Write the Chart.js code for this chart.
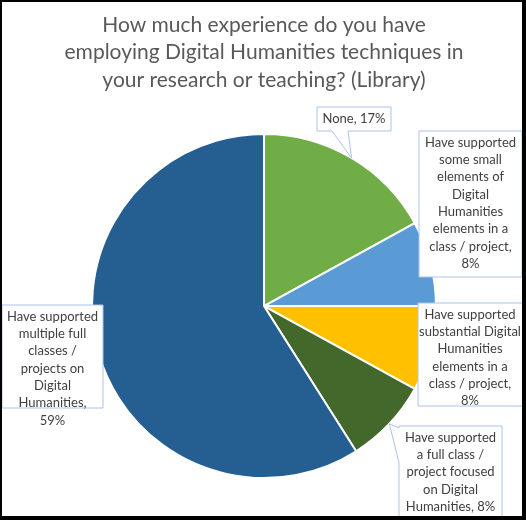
<!DOCTYPE html>
<html>
<head>
<meta charset="utf-8">
<script src="https://cdn.jsdelivr.net/npm/chart.js@4.4.1/dist/chart.umd.min.js"></script>
<style>
  body { margin: 0; background: #fff; }
  canvas { display: block; }
</style>
</head>
<body>
<canvas id="grafico" width="526" height="520"></canvas>
<script>
const titulo = [
    'How much experience do you have',
    'employing Digital Humanities techniques in',
    'your research or teaching? (Library)'
]
const categorias = [
    'None',
    'Have supported some small elements of Digital Humanities elements in a class / project',
    'Have supported substantial Digital Humanities elements in a class / project',
    'Have supported a full class / project focused on Digital Humanities',
    'Have supported multiple full classes / projects on Digital Humanities'
]
const valores = [17, 8, 8, 8, 59]
const cores = ['#70AD47', '#5B9BD5', '#FFC000', '#43682B', '#255E91']

// caixas dos rotulos (posicao na tela) e lado da ponta
const caixas = [
    { x: 317, y: 107, w: 74, h: 24, larg: 70, ponta: { lado: 'baixo', a: 15, b: 31 } },
    { x: 419, y: 131, w: 103, h: 146, larg: 97 },
    { x: 418, y: 303, w: 108, h: 103, larg: 105, cx: 470 },
    { x: 399, y: 426, w: 103, h: 100, larg: 100, ponta: { lado: 'esquerda', a: 2, b: 37 } },
    { x: 2, y: 305, w: 101, h: 103, larg: 95 }
]

const fonteRotulo = '13px Lato'
const alturaLinha = 17.3

// quebra por largura; a linha com o valor precisa de uma folga extra
function quebrarTexto(ctx, texto, largura) {
    const palavras = texto.split(' ')
    const linhas = []
    let atual = ''
    palavras.forEach((p, i) => {
        const teste = atual ? atual + ' ' + p : p
        const limite = i === palavras.length - 1 ? largura - 4 : largura
        if (ctx.measureText(teste).width > limite && atual) {
            linhas.push(atual)
            atual = p
        } else {
            atual = teste
        }
    })
    if (atual) linhas.push(atual)
    return linhas
}

function caminhoCaixa(ctx, c, tip) {
    const { x, y, w, h } = c
    ctx.beginPath()
    ctx.moveTo(x, y)
    ctx.lineTo(x + w, y)
    ctx.lineTo(x + w, y + h)
    if (c.ponta && c.ponta.lado === 'baixo') {
        ctx.lineTo(x + c.ponta.b, y + h)
        ctx.lineTo(tip.x, tip.y)
        ctx.lineTo(x + c.ponta.a, y + h)
    }
    ctx.lineTo(x, y + h)
    if (c.ponta && c.ponta.lado === 'esquerda') {
        ctx.lineTo(x, y + c.ponta.b)
        ctx.lineTo(tip.x, tip.y)
        ctx.lineTo(x, y + c.ponta.a)
    }
    ctx.closePath()
}

const rotulos = {
    id: 'rotulos',
    beforeDraw(chart) {
        const ctx = chart.ctx
        ctx.save()
        ctx.fillStyle = '#000'
        ctx.fillRect(0, 0, chart.width, chart.height)
        ctx.fillStyle = '#fff'
        ctx.fillRect(2, 2, 520, 514)
        ctx.restore()
    },
    afterDatasetsDraw(chart) {
        const ctx = chart.ctx
        const arcos = chart.getDatasetMeta(0).data
        ctx.save()
        ctx.beginPath()
        ctx.rect(2, 2, 520, 514)
        ctx.clip()
        ctx.font = fonteRotulo
        arcos.forEach((arco, i) => {
            const c = caixas[i]
            const meio = (arco.startAngle + arco.endAngle) / 2
            const tip = {
                x: arco.x + Math.cos(meio) * arco.outerRadius,
                y: arco.y + Math.sin(meio) * arco.outerRadius
            }
            caminhoCaixa(ctx, c, tip)
            ctx.fillStyle = '#fff'
            ctx.fill()
            ctx.strokeStyle = '#A9C4EB'
            ctx.lineWidth = 1
            ctx.stroke()

            const texto = categorias[i] + ', ' + valores[i] + '%'
            const linhas = quebrarTexto(ctx, texto, c.larg)
            const cx = c.cx || c.x + c.w / 2
            ctx.fillStyle = '#404040'
            ctx.textAlign = 'center'
            ctx.textBaseline = 'middle'
            linhas.forEach((l, k) => {
                ctx.fillText(l, cx, c.y + 11.7 + k * alturaLinha)
            })
        })
        ctx.restore()
    }
}

const grafico = new Chart(document.getElementById('grafico'), {
    type: 'pie',
    data: {
        labels: categorias,
        datasets: [{
            data: valores,
            backgroundColor: cores,
            borderColor: '#fff',
            borderWidth: 2
        }]
    },
    options: {
        responsive: false,
        animation: false,
        devicePixelRatio: 1,
        layout: {
            padding: { left: 2, right: 0, top: 0, bottom: 41 }
        },
        plugins: {
            legend: { display: false },
            tooltip: { enabled: false },
            title: {
                display: true,
                text: titulo,
                color: '#595959',
                font: { family: 'Lato', size: 21, weight: 'normal', lineHeight: 1.31 },
                padding: { top: 11, bottom: 39.5 }
            }
        }
    },
    plugins: [rotulos]
})
</script>
</body>
</html>
